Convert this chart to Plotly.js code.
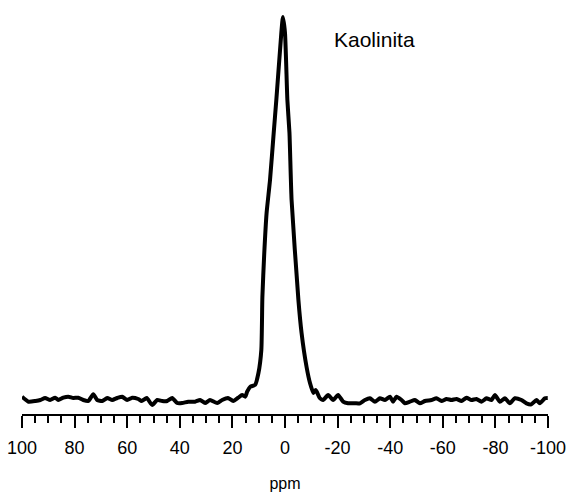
<!DOCTYPE html>
<html>
<head>
<meta charset="utf-8">
<script src="https://cdn.plot.ly/plotly-3.0.1.min.js"></script>
<style>html,body{margin:0;padding:0;background:#fff;}#chart{width:574px;height:492px;}</style>
</head>
<body>
<div id="chart"></div>
<script>
// Chemical shift (ppm) and intensity (arbitrary units)
const ppm = [100.0, 97.5, 94.9, 93.0, 91.2, 89.3, 87.4, 86.2, 84.3, 82.4, 80.5, 78.6, 76.7, 74.8, 72.9, 71.4, 69.5, 67.6, 65.7, 63.8, 61.9, 60.0, 58.1, 55.8, 54.5, 52.6, 50.5, 48.6, 46.7, 44.8, 42.9, 41.0, 39.1, 36.8, 34.2, 32.3, 30.4, 28.5, 25.8, 23.9, 21.7, 19.7, 17.8, 16.3, 15.1, 14.4, 13.2, 11.4, 10.1, 9.0, 8.6, 7.9, 7.0, 5.7, 4.3, 3.3, 1.4, 0.8, 0.0, -0.9, -1.7, -2.5, -5.1, -6.3, -8.2, -9.5, -10.8, -11.7, -13.2, -14.5, -16.4, -18.3, -20.2, -22.1, -24.0, -26.6, -28.5, -30.4, -32.3, -34.2, -36.1, -38.0, -39.9, -41.1, -42.4, -44.3, -45.6, -47.5, -49.4, -51.3, -53.2, -55.7, -57.6, -59.5, -61.4, -63.3, -65.2, -67.1, -69.0, -70.9, -72.8, -74.7, -76.6, -78.5, -79.8, -81.7, -83.6, -85.5, -87.4, -89.9, -91.8, -93.7, -95.6, -96.9, -98.8, -99.9];
const intensity = [17.3, 12.3, 13, 14, 16, 14, 16.3, 14, 16.3, 17.3, 16, 16.3, 14, 13, 19.7, 14, 13, 16, 14, 16, 17.3, 14, 16.3, 15, 13, 16, 9, 14, 13, 13, 16, 11, 11, 12.3, 12.3, 14, 11, 14, 11, 14, 16, 13, 16.3, 19, 17.3, 22.3, 27.3, 29, 41, 64, 117, 160, 201, 234, 281, 314, 381, 397, 381, 314, 281, 214, 114, 81, 47, 31, 21, 24, 16, 14, 19, 14, 19, 12.3, 10.7, 10.7, 10.7, 14, 15.7, 12.3, 15.7, 14, 17.3, 12.3, 17.3, 14, 10.7, 12.3, 14, 10.7, 13, 14, 15.7, 13, 15, 14, 15, 13, 16.3, 14, 15, 12.3, 15.7, 14, 19, 12.3, 15.7, 10.7, 15.7, 14, 10.7, 9.7, 14, 10.7, 15.7, 16];
const tickVals = [100, 80, 60, 40, 20, 0, -20, -40, -60, -80, -100];
const tickText = ['100', '80', '60', '40', '20', '0', '-20', '-40', '-60', '-80', '-100'];
const sampleName = 'Kaolinita';
const xLabel = 'ppm';

const trace = {
  x: ppm, y: intensity, type: 'scatter', mode: 'lines',
  line: {color: '#000', width: 4, shape: 'spline', smoothing: 0.5},
  hoverinfo: 'skip'
};

const layout = {
  width: 574, height: 492,
  margin: {l: 21.7, r: 25.7, t: 10, b: 78},
  paper_bgcolor: '#fff', plot_bgcolor: '#fff',
  showlegend: false,
  font: {family: 'Liberation Sans, Arial, sans-serif', color: '#000'},
  xaxis: {
    range: [100, -100],
    showline: true, linecolor: '#000', linewidth: 2,
    showgrid: false, zeroline: false,
    ticks: 'outside', ticklen: 12, tickwidth: 2, tickcolor: '#000',
    tickvals: tickVals, ticktext: tickText,
    ticklabelstandoff: 4,
    tickfont: {size: 18, color: '#000', family: 'Liberation Sans, Arial, sans-serif'},
    minor: {dtick: 5, ticks: 'outside', ticklen: 7, tickwidth: 2, tickcolor: '#000', showgrid: false},
    title: {text: xLabel, font: {size: 16, color: '#000'}, standoff: 22}
  },
  yaxis: {
    range: [0, 404], visible: false, showgrid: false, zeroline: false
  },
  annotations: [{
    text: sampleName, xref: 'paper', yref: 'paper',
    x: (375 - 21.7) / 526.6, y: (414 - 40) / 404,
    xanchor: 'center', yanchor: 'middle', showarrow: false,
    font: {size: 21, color: '#000', family: 'Liberation Sans, Arial, sans-serif'}
  }]
};

Plotly.newPlot('chart', [trace], layout, {displayModeBar: false, staticPlot: true});
</script>
</body>
</html>
